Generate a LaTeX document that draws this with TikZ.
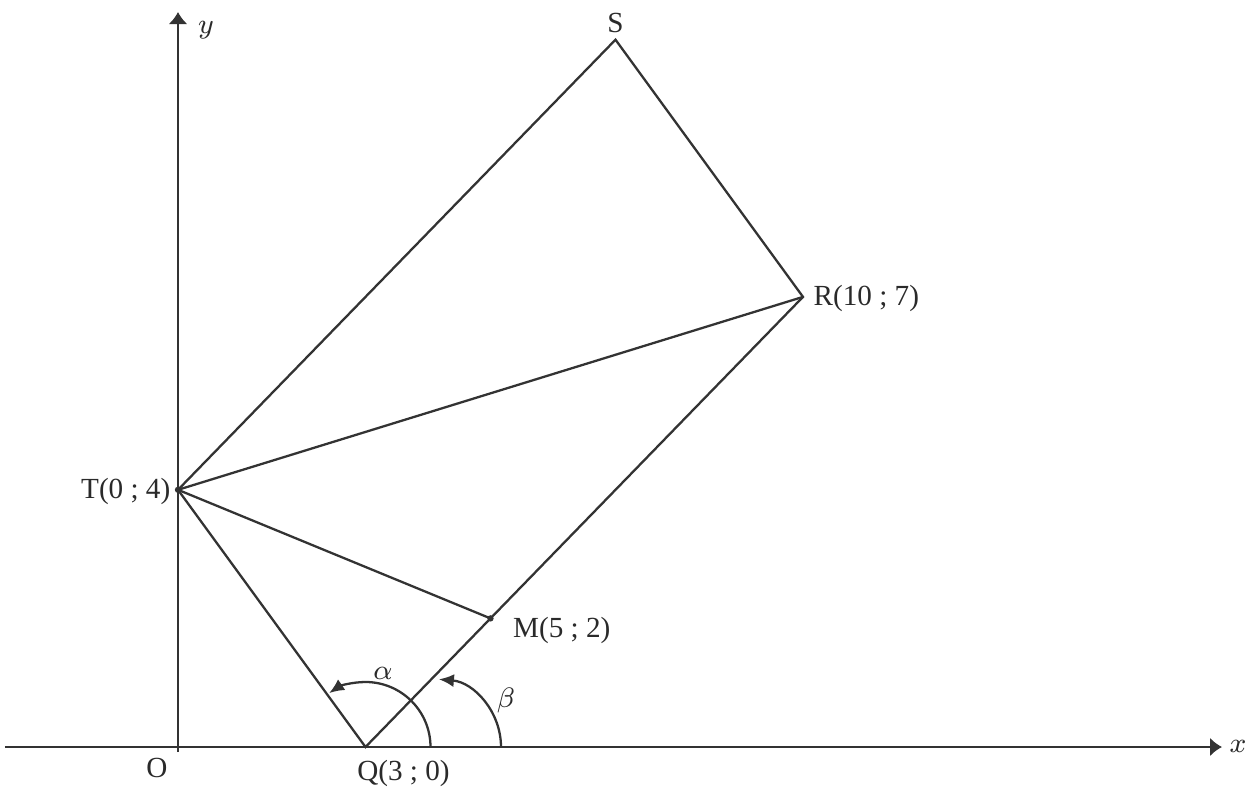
\documentclass[tikz,border=0pt]{standalone}
\usepackage{fontspec}
\setmainfont{Liberation Serif}
\usetikzlibrary{positioning, arrows.meta, calc}
\usepackage{xcolor}
\definecolor{lineblk}{HTML}{333333}
\definecolor{txtblk}{HTML}{2A2A2A}

\tikzset{
  edge/.style={draw=lineblk, line width=0.65pt},
  axis/.style={draw=lineblk, line width=0.65pt, -{Latex[length=1.2mm,width=1.9mm]}},
  anglearc/.style={draw=lineblk, line width=0.65pt, -{Latex[length=1.5mm,width=1.3mm]}},
  lbl/.style={text=txtblk, font=\fontsize{8.3}{10}\selectfont, inner sep=0pt}
}

\begin{document}
\begin{tikzpicture}[x=0.625cm, y=0.643cm]
        \useasboundingbox (-1.78cm,-0.43cm) rectangle (10.80cm,7.47cm);
        % points
        \coordinate (O) at (0,0);
        \coordinate (Q) at (3,0);
        \coordinate (T) at (0,4);
        \coordinate (M) at (5,2);
        \coordinate (R) at (10,7);
        \coordinate (S) at (7,11);
        \coordinate (xstart) at (-1.73cm,0);
        \coordinate (xend) at (10.44cm,0);
        \coordinate (ystart) at (0,-0.05cm);
        \coordinate (yend) at (0,7.35cm);
        % axes
        \draw[axis] (xstart) -- (xend);
        \draw[axis] (ystart) -- (yend);
        \node[lbl] (xlab) at (10.60cm,0.01cm) {$x$};
        \node[lbl] (ylab) at (0.28cm,7.17cm) {$y$};
        \node[lbl] (Olab) at (-0.21cm,-0.21cm) {O};
        % rectangle and diagonals
        \draw[edge] (Q) -- (R) -- (S) -- (T) -- cycle;
        \draw[edge] (T) -- (R);
        \draw[edge] (T) -- (M);
        \fill[lineblk] (M) circle (0.9pt);
        \fill[lineblk] (T) circle (0.9pt);
        % angles
        \draw[anglearc] ($(Q)+(0.65cm,0)$) arc[start angle=0, end angle=124, radius=0.65cm];
        \coordinate (bc) at (4.08,0);
        \draw[anglearc] ($(bc)+(0.68cm,0)$) arc[start angle=0, end angle=85, radius=0.68cm];
        \node[lbl] (alab) at (2.05cm,0.74cm) {$\alpha$};
        \node[lbl] (blab) at (3.28cm,0.47cm) {$\beta$};
        % point labels
        \node[lbl, below=0.13cm of Q, xshift=0.38cm] (Qlab) {Q(3 ; 0)};
        \node[lbl, left=0.07cm of T, yshift=-0.02cm] (Tlab) {T(0 ; 4)};
        \node[lbl, right=0.22cm of M, yshift=-0.12cm] (Mlab) {M(5 ; 2)};
        \node[lbl, right=0.1cm of R, yshift=-0.02cm] (Rlab) {R(10 ; 7)};
        \node[lbl, above=0.06cm of S] (Slab) {S};
      \end{tikzpicture}
\end{document}
